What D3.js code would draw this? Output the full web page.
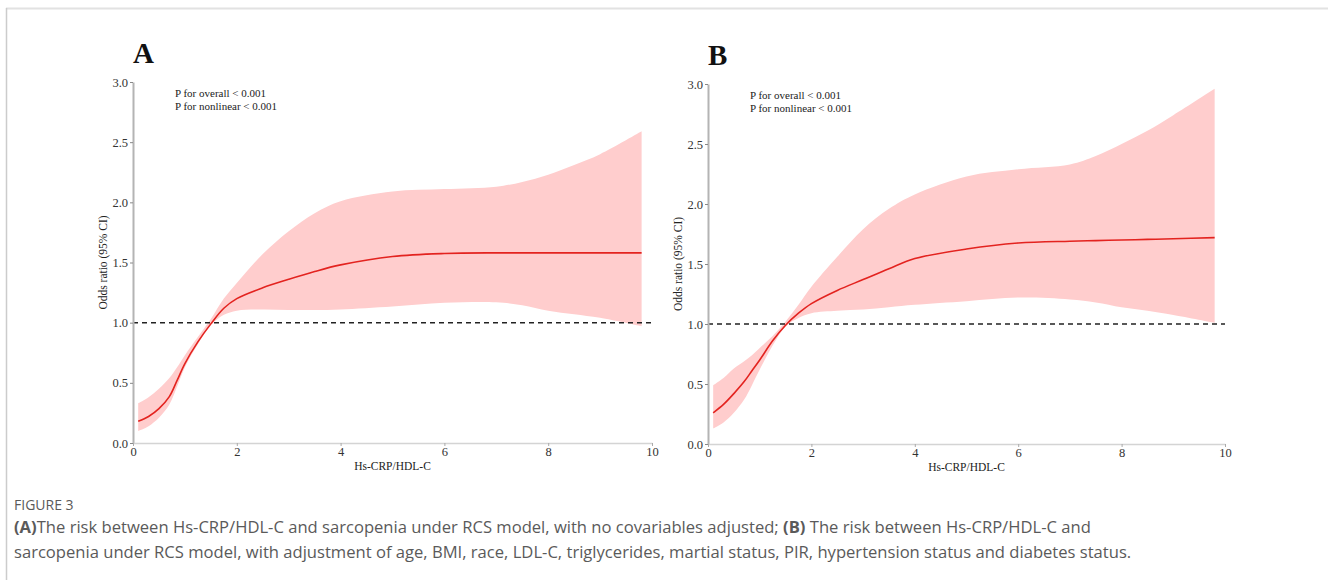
<!DOCTYPE html>
<html>
<head>
<meta charset="utf-8">
<script src="https://cdn.jsdelivr.net/npm/d3@7"></script>
<style>
  html, body { margin: 0; padding: 0; background: #fff; }
  svg { display: block; }
</style>
</head>
<body>
<svg id="fig" width="1328" height="580"></svg>
<script>
// x grid shared by both panels (Hs-CRP/HDL-C)
const xs = [0.1, 0.3, 0.5, 0.7, 0.85, 1, 1.25, 1.5, 1.75, 2, 2.5, 3, 3.5, 4, 5, 6, 7, 7.5, 8, 8.5, 9, 9.8];

// Panel A: unadjusted
const orA    = [0.18, 0.22, 0.285, 0.385, 0.52, 0.66, 0.84, 0.99, 1.12, 1.20, 1.29, 1.36, 1.425, 1.48, 1.55, 1.575, 1.58, 1.58, 1.58, 1.58, 1.58, 1.58];
const lowerA = [0.10, 0.14, 0.21, 0.32, 0.47, 0.63, 0.82, 0.98, 1.065, 1.10, 1.11, 1.105, 1.105, 1.11, 1.135, 1.165, 1.17, 1.145, 1.10, 1.07, 1.04, 0.97];
const upperA = [0.33, 0.38, 0.45, 0.54, 0.63, 0.73, 0.88, 1.03, 1.20, 1.33, 1.57, 1.76, 1.91, 2.01, 2.09, 2.11, 2.13, 2.17, 2.23, 2.31, 2.40, 2.59];

// Panel B: adjusted
const orB    = [0.26, 0.33, 0.42, 0.52, 0.61, 0.70, 0.86, 0.99, 1.09, 1.17, 1.28, 1.37, 1.46, 1.545, 1.625, 1.675, 1.69, 1.695, 1.70, 1.705, 1.71, 1.72];
const lowerB = [0.13, 0.18, 0.26, 0.37, 0.49, 0.62, 0.82, 0.98, 1.05, 1.09, 1.11, 1.12, 1.14, 1.16, 1.19, 1.22, 1.205, 1.18, 1.14, 1.11, 1.075, 1.01];
const upperB = [0.49, 0.55, 0.63, 0.69, 0.74, 0.80, 0.90, 1.02, 1.16, 1.31, 1.56, 1.79, 1.96, 2.08, 2.23, 2.29, 2.33, 2.40, 2.50, 2.61, 2.74, 2.96];

const xTicks = [0, 2, 4, 6, 8, 10];
const yTicks = [0, 0.5, 1, 1.5, 2, 2.5, 3];
const pText = ["P for overall < 0.001", "P for nonlinear < 0.001"];

const svg = d3.select('#fig');
const serif = '"Liberation Serif", "Times New Roman", serif';
const smooth = d3.curveCatmullRom.alpha(0.5);

// page frame
svg.append('line').attr('x1', 6).attr('x2', 1328).attr('y1', 8.5).attr('y2', 8.5)
  .attr('stroke', '#e2e2e2').attr('stroke-width', 2);
svg.append('line').attr('x1', 6.5).attr('x2', 6.5).attr('y1', 8).attr('y2', 580)
  .attr('stroke', '#cccccc').attr('stroke-width', 1.5);

function panel(opts) {
  const { left, right, top, bottom, label, or, lower, upper } = opts;
  const g = svg.append('g');

  const x = d3.scaleLinear().domain([0, 10]).range([left, right]);
  const y = d3.scaleLinear().domain([0, 3]).range([bottom, top]);

  const rows = xs.map((v, i) => ({ x: v, or: or[i], lo: lower[i], hi: upper[i] }));

  // CI band
  g.append('path')
    .datum(rows)
    .attr('fill', '#ffcdcd')
    .attr('d', d3.area().curve(smooth)
      .x(d => x(d.x)).y0(d => y(d.lo)).y1(d => y(d.hi)));

  // reference line OR = 1
  g.append('line')
    .attr('x1', x(0)).attr('x2', x(10))
    .attr('y1', y(1)).attr('y2', y(1))
    .attr('stroke', '#222').attr('stroke-width', 1.5)
    .attr('stroke-dasharray', '5,4');

  // OR curve
  g.append('path')
    .datum(rows)
    .attr('fill', 'none')
    .attr('stroke', '#e3231f')
    .attr('stroke-width', 1.6)
    .attr('d', d3.line().curve(smooth).x(d => x(d.x)).y(d => y(d.or)));

  // axes
  const yAxis = g.append('g')
    .attr('transform', `translate(${left},0)`)
    .call(d3.axisLeft(y).tickValues(yTicks).tickFormat(d3.format('.1f'))
      .tickSize(3).tickSizeOuter(0).tickPadding(2));
  yAxis.select('.domain').attr('stroke', '#b4b4b4').attr('stroke-width', 2);
  yAxis.selectAll('.tick line').attr('stroke', '#888');

  const xAxis = g.append('g')
    .attr('transform', `translate(0,${bottom})`)
    .call(d3.axisBottom(x).tickValues(xTicks).tickFormat(d3.format('d'))
      .tickSize(3).tickSizeOuter(0).tickPadding(1));
  xAxis.select('.domain').attr('stroke', '#d4d4d4').attr('stroke-width', 1.5);
  xAxis.selectAll('.tick line').attr('stroke', '#aaa');

  g.selectAll('.tick text')
    .attr('font-family', serif).attr('font-size', 12.5).attr('fill', '#333');

  // axis titles
  g.append('text')
    .attr('x', (left + right) / 2).attr('y', bottom + 27)
    .attr('text-anchor', 'middle')
    .attr('font-family', serif).attr('font-size', 11.5).attr('fill', '#222')
    .text('Hs-CRP/HDL-C');
  g.append('text')
    .attr('transform', `translate(${left - 26},${(top + bottom) / 2}) rotate(-90)`)
    .attr('text-anchor', 'middle')
    .attr('font-family', serif).attr('font-size', 11.5).attr('fill', '#222')
    .text('Odds ratio (95% CI)');

  // panel letter
  g.append('text')
    .attr('x', left).attr('y', top - 19)
    .attr('font-family', serif).attr('font-weight', 'bold').attr('font-size', 29).attr('fill', '#111')
    .text(label);

  // p-values
  g.append('g').selectAll('text').data(pText).join('text')
    .attr('x', left + 42).attr('y', (d, i) => top + 15 + i * 12.5)
    .attr('font-family', serif).attr('font-size', 11).attr('fill', '#222')
    .text(d => d);
}

panel({ left: 133, right: 652, top: 82, bottom: 443, label: 'A', or: orA, lower: lowerA, upper: upperA });
panel({ left: 708, right: 1225, top: 84, bottom: 444, label: 'B', or: orB, lower: lowerB, upper: upperB });

// caption
const cap = svg.append('g').attr('font-family', '"Open Sans", "Noto Sans", sans-serif').attr('fill', '#5a5a5a');
cap.append('text').attr('x', 14).attr('y', 510).attr('font-size', 14).text('FIGURE 3');
const l1 = cap.append('text').attr('x', 14).attr('y', 533).attr('font-size', 16.6);
l1.append('tspan').attr('font-weight', 'bold').text('(A)');
l1.append('tspan').text('The risk between Hs-CRP/HDL-C and sarcopenia under RCS model, with no covariables adjusted; ');
l1.append('tspan').attr('font-weight', 'bold').text('(B)');
l1.append('tspan').text(' The risk between Hs-CRP/HDL-C and');
cap.append('text').attr('x', 14).attr('y', 558).attr('font-size', 16.6)
  .text('sarcopenia under RCS model, with adjustment of age, BMI, race, LDL-C, triglycerides, martial status, PIR, hypertension status and diabetes status.');
</script>
</body>
</html>
